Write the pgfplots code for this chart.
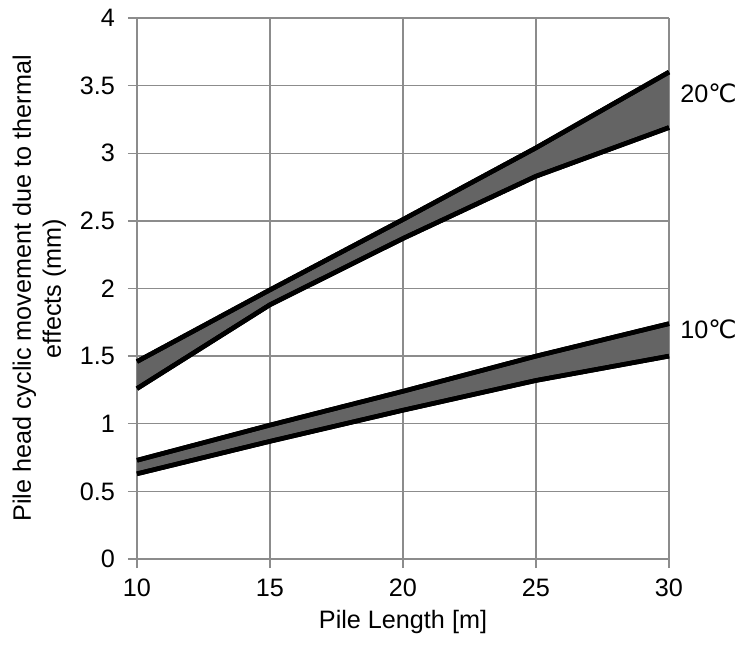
\documentclass[border=0pt]{standalone}
\usepackage{pgfplots}
\pgfplotsset{compat=1.18}
\usepackage{fontspec}
\setmainfont{Liberation Sans}
\newfontfamily\symfont{DejaVu Sans}
\usetikzlibrary{calc}
\usepgfplotslibrary{fillbetween}
\definecolor{gridgray}{RGB}{140,140,140}
\definecolor{bandgray}{RGB}{100,100,100}
\begin{document}
\begin{tikzpicture}
\begin{axis}[
  scale only axis,
  width=266pt, height=270.5pt,
  xmin=10, xmax=30, ymin=0, ymax=4,
  xtick={10,15,20,25,30},
  ytick={0,0.5,1,1.5,2,2.5,3,3.5,4},
  yticklabels={0,0.5,1,1.5,2,2.5,3,3.5,4},
  grid=major,
  grid style={gridgray, line width=0.7pt},
  axis line style={gridgray, line width=0.7pt},
  tick style={gridgray, line width=0.7pt},
  tick align=outside,
  major tick length=4.5pt,
  axis x line*=bottom, axis y line*=left,
  /pgf/number format/assume math mode=true,
  tick label style={font=\fontsize{12.6}{14}\selectfont, text=black},
  xticklabel style={yshift=-2pt},
  yticklabel style={xshift=-3pt},
  xlabel={Pile Length [m]},
  ylabel={Pile head cyclic movement due to thermal\\effects (mm)},
  ylabel style={align=center, font=\fontsize{12.6}{15}\selectfont, yshift=0pt},
  xlabel style={font=\fontsize{12.6}{14}\selectfont, yshift=0pt},
  clip=false,
]
\addplot[name path=a20u, black, line width=2.3pt] coordinates {(10,1.46) (15,1.99) (20,2.51) (25,3.04) (30,3.60)};
\addplot[name path=a20l, black, line width=2.3pt] coordinates {(10,1.26) (15,1.88) (20,2.37) (25,2.83) (30,3.19)};
\addplot[name path=a10u, black, line width=2.3pt] coordinates {(10,0.73) (15,0.99) (20,1.24) (25,1.50) (30,1.74)};
\addplot[name path=a10l, black, line width=2.3pt] coordinates {(10,0.63) (15,0.87) (20,1.10) (25,1.32) (30,1.50)};
\addplot[bandgray] fill between[of=a20u and a20l];
\addplot[bandgray] fill between[of=a10u and a10l];
\addplot[black, line width=2.3pt] coordinates {(10,1.46) (15,1.99) (20,2.51) (25,3.04) (30,3.60)};
\addplot[black, line width=2.3pt] coordinates {(10,1.26) (15,1.88) (20,2.37) (25,2.83) (30,3.19)};
\addplot[black, line width=2.3pt] coordinates {(10,0.73) (15,0.99) (20,1.24) (25,1.50) (30,1.74)};
\addplot[black, line width=2.3pt] coordinates {(10,0.63) (15,0.87) (20,1.10) (25,1.32) (30,1.50)};
\node[anchor=west, font=\fontsize{12.6}{14}\selectfont, inner sep=0pt] at (axis cs:30,3.44) {\hspace{5.5pt}20\symfont ℃};
\node[anchor=west, font=\fontsize{12.6}{14}\selectfont, inner sep=0pt] at (axis cs:30,1.70) {\hspace{5.5pt}10\symfont ℃};
\coordinate (O) at (axis cs:10,0);
\end{axis}
\pgfresetboundingbox
\path ($(O)+(-68.5pt,-45pt)$) rectangle ++(370pt,324.5pt);
\end{tikzpicture}
\end{document}
